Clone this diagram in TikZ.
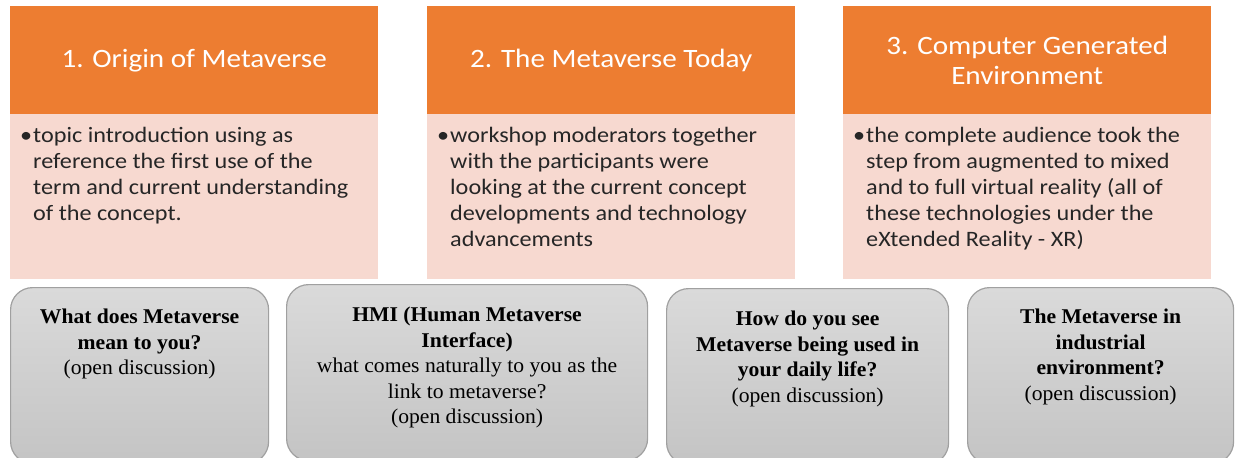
\documentclass[tikz,border=0pt]{standalone}
\usepackage{fontspec}
\setmainfont[FakeStretch=1.03]{Liberation Serif}
\newfontfamily\carlito[FakeStretch=1.1]{Carlito}
\usetikzlibrary{positioning}

\definecolor{accorange}{HTML}{ED7D31}
\definecolor{accpink}{HTML}{F7D9D0}
\definecolor{qgraytop}{HTML}{DADADA}
\definecolor{qgraybot}{HTML}{C4C4C4}
\definecolor{qedge}{HTML}{A0A0A0}
\definecolor{bodytext}{HTML}{262626}

\begin{document}
\begin{tikzpicture}[x=1pt,y=-1pt,
    head/.style={fill=accorange, text=white, inner sep=0pt, anchor=north west,
        minimum width=368pt, minimum height=108pt, align=center,
        font=\carlito\fontsize{26.5}{30}\selectfont},
    body/.style={fill=accpink, inner sep=0pt, anchor=north west,
        minimum width=368pt, minimum height=165pt},
    bullettext/.style={text=bodytext, inner sep=0pt, anchor=north west, align=left,
        font=\carlito\fontsize{22}{26}\selectfont},
    qbox/.style={draw=qedge, line width=1.2pt, rounded corners=22pt,
        top color=qgraytop, bottom color=qgraybot, anchor=north west, minimum height=176pt},
    qtext/.style={inner sep=0pt, anchor=north, align=center,
        font=\fontsize{21}{25.5}\selectfont}]

    \useasboundingbox (0,0) rectangle (1235,458);
    \clip (0,0) rectangle (1235,458);

    % Workshop sessions
    \node[head] (h1) at (10,6) {\raisebox{-2pt}{1. Origin of Metaverse}};
    \node[body] (b1) at (10,114) {};
    \node[bullettext] (t1) at (33,127) {\llap{\textbullet\hspace{1pt}}topic introduction using as\\
        reference\ the first use of the\\term and current understanding\\of the concept.};

    \node[head] (h2) at (427,6) {\raisebox{-2pt}{2. The Metaverse Today}};
    \node[body] (b2) at (427,114) {};
    \node[bullettext] (t2) at (450,127) {\llap{\textbullet\hspace{1pt}}workshop moderators together\\
        with the participants were\\looking at the current concept\\developments and technology\\advancements};

    \node[head] (h3) at (843,6) {3. Computer Generated\\Environment};
    \node[body] (b3) at (843,114) {};
    \node[bullettext] (t3) at (866,127) {\llap{\textbullet\hspace{1pt}}the complete audience took the\\
        step from augmented to mixed\\and to full virtual reality (all of\\these technologies under the\\eXtended Reality - XR)};

    % Discussion questions
    \node[qbox, minimum width=258pt] (q1) at (10,287) {};
    \node[qtext, below=22pt of q1.north] (qt1) {\textbf{What does Metaverse}\\\textbf{mean to you?}\\(open discussion)};

    \node[qbox, minimum width=361pt] (q2) at (286,284) {};
    \node[qtext, below=23pt of q2.north] (qt2) {\textbf{HMI (Human Metaverse}\\\textbf{Interface)}\\
        what comes naturally to you as the\\link to metaverse?\\(open discussion)};

    \node[qbox, minimum width=282pt] (q3) at (666,288) {};
    \node[qtext, below=23pt of q3.north] (qt3) {\textbf{How do you see}\\\textbf{Metaverse being used in}\\
        \textbf{your daily life?}\\(open discussion)};

    \node[qbox, minimum width=266pt] (q4) at (967,287) {};
    \node[qtext, below=22pt of q4.north] (qt4) {\textbf{The Metaverse in}\\\textbf{industrial}\\
        \textbf{environment?}\\(open discussion)};
\end{tikzpicture}
\end{document}
